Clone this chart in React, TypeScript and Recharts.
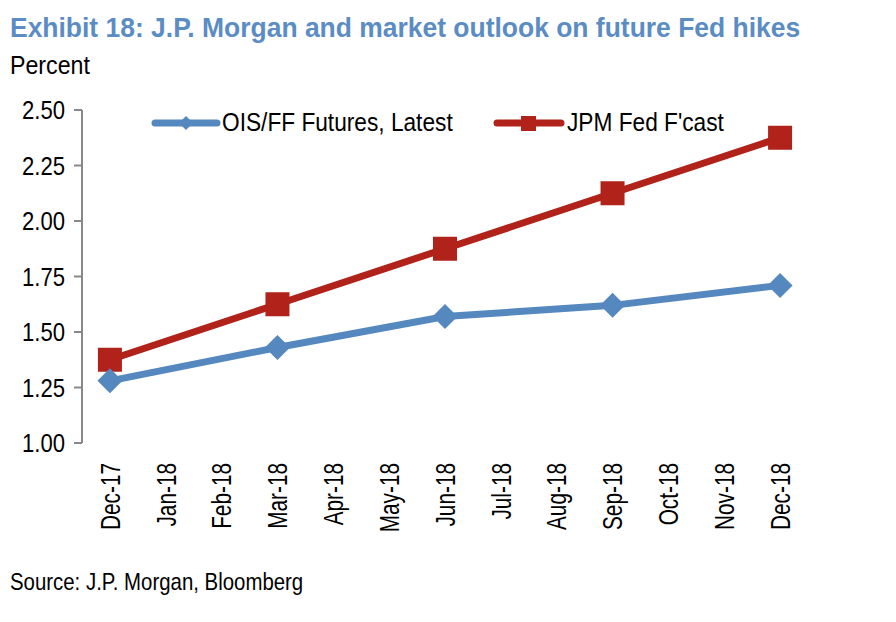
import { LineChart, Line, XAxis, YAxis } from "recharts";

const months = [
  "Dec-17", "Jan-18", "Feb-18", "Mar-18", "Apr-18", "May-18", "Jun-18",
  "Jul-18", "Aug-18", "Sep-18", "Oct-18", "Nov-18", "Dec-18",
];
const oisFutures = [1.28, null, null, 1.43, null, null, 1.57, null, null, 1.62, null, null, 1.71];
const jpmForecast = [1.375, null, null, 1.625, null, null, 1.875, null, null, 2.125, null, null, 2.375];
const yTicks = [1, 1.25, 1.5, 1.75, 2, 2.25, 2.5];

const BLUE = "#5588BF";
const RED = "#B0221A";
const AXIS = "#888888";
const FONT = "'Liberation Sans', Arial, sans-serif";

const data = months.map((m, i) => ({ i, month: m, ois: oisFutures[i], jpm: jpmForecast[i] }));
const labelTicks = months.map((_, i) => i);
const markTicks = [...months.map((_, i) => i - 0.5), months.length - 0.5];

function Diamond(props: any) {
  const { cx, cy, index, payload } = props;
  const r = 12.5;
  if (cx == null || cy == null || payload?.ois == null) return <g key={`d${index}`} />;
  return (
    <polygon
      key={`d${index}`}
      points={`${cx},${cy - r} ${cx + r},${cy} ${cx},${cy + r} ${cx - r},${cy}`}
      fill={BLUE}
    />
  );
}

function Square(props: any) {
  const { cx, cy, index, payload } = props;
  const r = 12;
  if (cx == null || cy == null || payload?.jpm == null) return <g key={`s${index}`} />;
  return <rect key={`s${index}`} x={cx - r} y={cy - r} width={r * 2} height={r * 2} fill={RED} />;
}

// condensed text: scale along the reading direction only
function MonthTick({ x, y, payload }: any) {
  return (
    <text
      transform={`translate(${x}, ${y}) rotate(-90) scale(0.77, 1)`}
      textAnchor="end"
      dy="0.36em"
      fontSize={27}
      fill="#000"
      fontFamily={FONT}
    >
      {months[payload.value]}
    </text>
  );
}

function ValueTick({ x, y, payload }: any) {
  return (
    <text
      transform={`translate(${x}, ${y}) scale(0.85, 1)`}
      textAnchor="end"
      dy="0.36em"
      fontSize={26}
      fill="#000"
      fontFamily={FONT}
    >
      {payload.value.toFixed(2)}
    </text>
  );
}

function Label({ x, y, size, sx, children, bold, color }: any) {
  return (
    <text
      transform={`translate(${x}, ${y}) scale(${sx}, 1)`}
      fontSize={size}
      fontFamily={FONT}
      fontWeight={bold ? "bold" : "normal"}
      fill={color || "#000"}
    >
      {children}
    </text>
  );
}

function Overlay() {
  return (
    <svg width={896} height={622} style={{ position: "absolute", left: 0, top: 0, pointerEvents: "none" }}>
      <Label x={10} y={37} size={27} sx={0.98} bold color="#5B8CC4">
        Exhibit 18: J.P. Morgan and market outlook on future Fed hikes
      </Label>
      <Label x={10} y={73.5} size={25.5} sx={0.91}>Percent</Label>
      <Label x={10} y={590} size={24} sx={0.85}>Source: J.P. Morgan, Bloomberg</Label>
      {/* legend */}
      <line x1={155} y1={123} x2={217} y2={123} stroke={BLUE} strokeWidth={7} strokeLinecap="round" />
      <polygon points="186,116 193,123 186,130 179,123" fill={BLUE} />
      <Label x={222} y={131} size={25.5} sx={0.89}>OIS/FF Futures, Latest</Label>
      <line x1={497} y1={123} x2={561} y2={123} stroke={RED} strokeWidth={7} strokeLinecap="round" />
      <rect x={521} y={116} width={15} height={15} fill={RED} />
      <Label x={567} y={131} size={25.5} sx={0.89}>JPM Fed F'cast</Label>
    </svg>
  );
}

export default function App() {
  return (
    <div style={{ position: "absolute", left: 0, top: 0, width: 896, height: 622, background: "#fff", fontFamily: FONT }}>
      <LineChart
        width={896}
        height={622}
        data={data}
        margin={{ top: 110, right: 88, left: 12, bottom: 79 }}
        style={{ position: "absolute", left: 0, top: 0 }}
      >
        <XAxis
          xAxisId="marks"
          dataKey="i"
          type="number"
          domain={[-0.5, months.length - 0.5]}
          ticks={markTicks}
          interval={0}
          height={0}
          tick={() => null}
          tickSize={8}
          stroke={AXIS}
          axisLine={{ stroke: AXIS, strokeWidth: 2 }}
          tickLine={{ stroke: AXIS, strokeWidth: 2 }}
        />
        <XAxis
          dataKey="i"
          type="number"
          domain={[-0.5, months.length - 0.5]}
          ticks={labelTicks}
          interval={0}
          height={100}
          axisLine={false}
          tickLine={false}
          tickMargin={14}
          tick={<MonthTick />}
        />
        <YAxis
          domain={[1, 2.5]}
          ticks={yTicks}
          width={70}
          tickSize={8}
          tickMargin={9}
          axisLine={{ stroke: AXIS, strokeWidth: 2 }}
          tickLine={{ stroke: AXIS, strokeWidth: 2 }}
          tick={<ValueTick />}
        />
        <Line
          dataKey="jpm"
          stroke={RED}
          strokeWidth={7}
          connectNulls
          dot={(p: any) => <Square {...p} />}
          activeDot={false}
          isAnimationActive={false}
        />
        <Line
          dataKey="ois"
          stroke={BLUE}
          strokeWidth={7}
          connectNulls
          dot={(p: any) => <Diamond {...p} />}
          activeDot={false}
          isAnimationActive={false}
        />
      </LineChart>
      <Overlay />
    </div>
  );
}
